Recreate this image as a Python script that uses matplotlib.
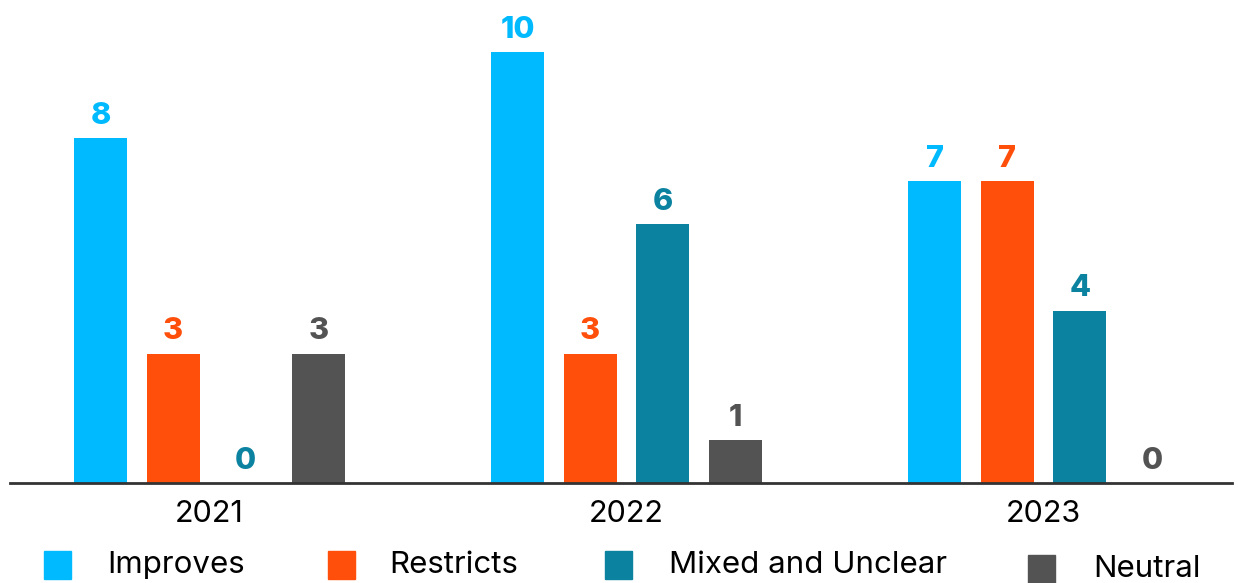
import numpy as np
import matplotlib.pyplot as plt
from matplotlib.patches import Rectangle

years = ['2021', '2022', '2023']
series = ['Improves', 'Restricts', 'Mixed and Unclear', 'Neutral']
improves = [8, 10, 7]
restricts = [3, 3, 7]
mixed = [0, 6, 4]
neutral = [3, 1, 0]
colors = ['#00BAFF', '#FF4F0A', '#0B82A0', '#535353']

plt.rcParams['font.family'] = ['Inter', 'DejaVu Sans']

W, H = 1238, 583
fig = plt.figure(figsize=(W / 100, H / 100), dpi=100)
ax = fig.add_axes([10 / W, 100 / H, 1222 / W, 483 / H])

x = np.arange(len(years))
step = 0.174
width = 0.127
values = [improves, restricts, mixed, neutral]
for i, (name, vals, c) in enumerate(zip(series, values, colors)):
    pos = x + (i - 1.5) * step
    ax.bar(pos, vals, width=width, color=c, label=name)
    for px, v in zip(pos, vals):
        ax.annotate(str(v), (px, v), xytext=(0, 6), textcoords='offset points',
                    ha='center', va='bottom', fontsize=22, fontweight='heavy', color=c)

ax.set_xlim(-0.478, 2.452)
ax.set_ylim(0, 483 / 43.1)
ax.set_xticks(x)
ax.set_xticklabels(years, fontsize=22)
ax.tick_params(axis='x', length=0, pad=12)
ax.set_yticks([])
for s in ['top', 'right', 'left']:
    ax.spines[s].set_visible(False)
ax.spines['bottom'].set_color('#333333')
ax.spines['bottom'].set_linewidth(2)

# legend drawn by hand along the bottom
legend_items = [(44, 551, 107), (328, 551, 389), (605, 551, 669), (1028, 555, 1093)]
for (sx, sy, tx), name, c in zip(legend_items, series, colors):
    fig.patches.append(Rectangle((sx / W, 1 - (sy + 28) / H), 27 / W, 28 / H,
                                 transform=fig.transFigure, color=c))
    fig.text(tx / W, 1 - (sy + 14) / H, name, fontsize=22.5, va='center', ha='left')

fig.savefig('out.png', dpi=100)
